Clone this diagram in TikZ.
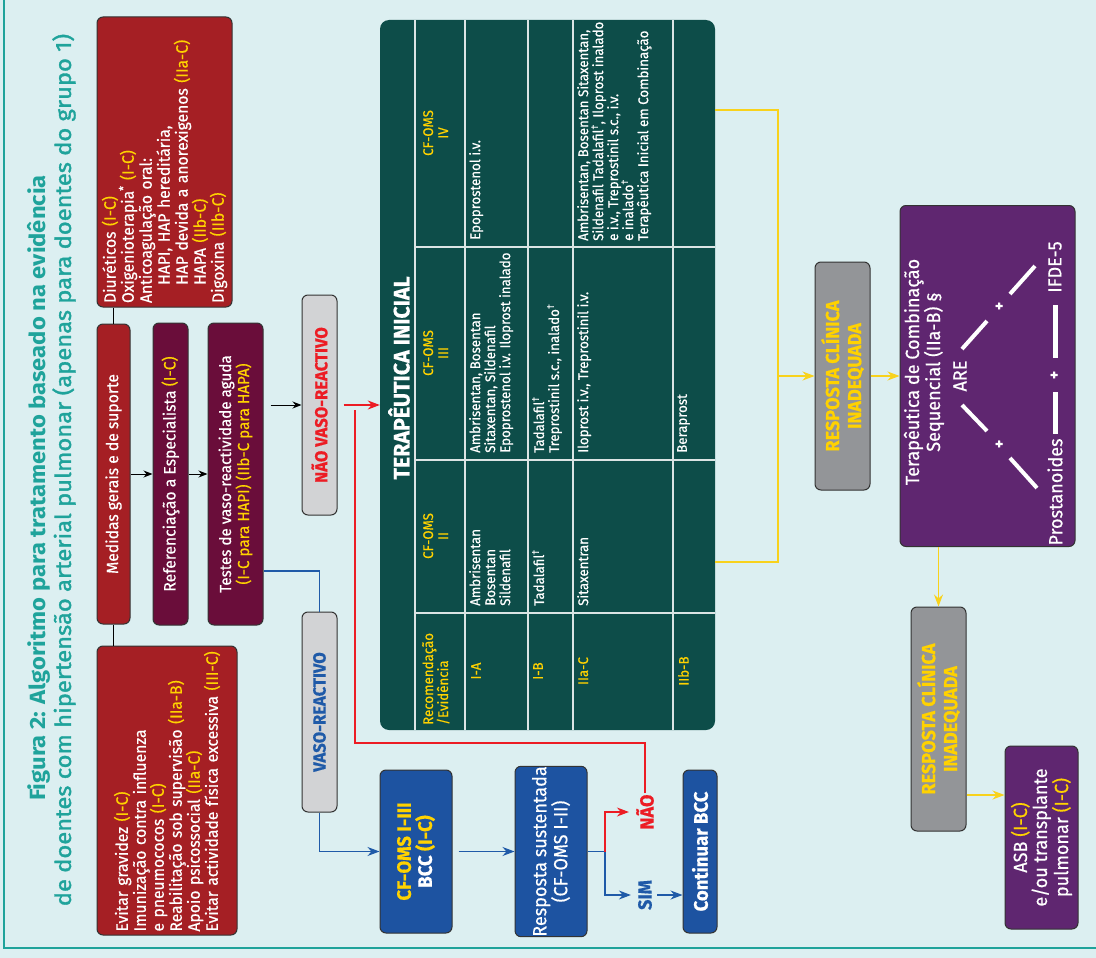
\documentclass[tikz,border=0pt]{standalone}
\usepackage{fontspec}
\setmainfont{Fira Sans}[FakeStretch=0.95, FakeBold=0.5]
\newfontfamily\titlefont{Fira Sans}[FakeStretch=1.08]
\newfontfamily\titlemed{Fira Sans}[FakeStretch=1.08, FakeBold=1.5]
\usetikzlibrary{arrows.meta,calc}

\definecolor{bgcol}{HTML}{DCEFF1}
\definecolor{tealtitle}{HTML}{1FA39B}
\definecolor{redbox}{HTML}{A51F24}
\definecolor{maroonbox}{HTML}{6A0D3A}
\definecolor{tablecol}{HTML}{0D4D49}
\definecolor{bluebox}{HTML}{1D53A1}
\definecolor{lightgrey}{HTML}{D2D3D5}
\definecolor{midgrey}{HTML}{939598}
\definecolor{purplebox}{HTML}{5F2670}
\definecolor{evyellow}{HTML}{FFD200}
\definecolor{noared}{HTML}{EC1C24}
\definecolor{simblue}{HTML}{1F5AA8}
\definecolor{lineyellow}{HTML}{F8D21C}

\newcommand{\fs}[2]{\fontsize{#1}{#2}\selectfont}
\newcommand{\ev}[1]{\textcolor{evyellow}{#1}}
\newcommand{\dg}{\textsuperscript{†}}

\begin{document}
\begin{tikzpicture}[x=1pt,y=-1pt,
  card/.style={draw=black!80, line width=1pt, rounded corners=6pt, rotate=90,
    inner sep=0pt, text=white, align=center},
  tcell/.style={rotate=90, anchor=north west, align=left, inner sep=0pt,
    text=white, font=\fs{14}{15}},
  thead/.style={rotate=90, anchor=north, align=center, inner sep=0pt,
    text=evyellow, font=\fs{14}{15}},
  tline/.style={draw=white!85!tablecol, line width=1.1pt},
  plain/.style={draw=black, line width=1pt},
  blackarrow/.style={draw=black, line width=1pt, -{Stealth[length=9pt,width=7pt]}},
  bluearrow/.style={draw=simblue, line width=1.2pt, -{Stealth[length=12pt,width=9pt]}},
  blueline/.style={draw=simblue, line width=1.2pt},
  redarrow/.style={draw=noared, line width=1.2pt, -{Stealth[length=12pt,width=9pt]}},
  redline/.style={draw=noared, line width=1.2pt},
  yarrow/.style={draw=lineyellow, line width=1.3pt, -{Stealth[length=12pt,width=9pt]}},
  yline/.style={draw=lineyellow, line width=1.3pt},
  lbl/.style={rotate=90, inner sep=1pt, font=\bfseries\fs{19}{21}},
  wtxt/.style={rotate=90, inner sep=1pt, text=white, font=\fs{19}{21}},
  wbar/.style={draw=white, line width=4pt},
]

  % Background and frame
  \fill[bgcol] (0,0) rectangle (1096,958);
  \useasboundingbox (0,0) rectangle (1096,958);
  \draw[tealtitle, line width=2.5pt] (4,0) -- (4,948) -- (1096,948);

  % Title
  \node[rotate=90, text=tealtitle, font=\titlefont\bfseries\fs{22}{26}] (title1) at (39,488)
    {Figura 2: Algoritmo para tratamento baseado na evidência};
  \node[rotate=90, text=tealtitle, font=\titlemed\fs{22}{26}] (title2) at (64,470)
    {de doentes com hipertensão arterial pulmonar (apenas para doentes do grupo 1)};

  % General measures column
  \node[card, fill=redbox, minimum width=290pt, minimum height=135pt, text width=282pt,
    align=left, font=\fs{16.5}{18}] (diuret) at (164.5,162)
    {Diuréticos \ev{(I-C)}\\
     Oxigenioterapia\textsuperscript{*} \ev{(I-C)}\\
     Anticoagulação oral:\\
     \hspace*{1.1em}HAPI, HAP hereditária,\\
     \hspace*{1.1em}HAP devida a anorexigenos \ev{(IIa-C)}\\
     \hspace*{1.1em}HAPA \ev{(IIb-C)}\\
     Digoxina \ev{(IIb-C)}};
  \node[card, fill=redbox, minimum width=300pt, minimum height=33pt, font=\fs{16.5}{18}]
    (medidas) at (113.5,474) {Medidas gerais e de suporte};
  \node[card, fill=maroonbox, minimum width=302pt, minimum height=35pt, font=\fs{16.5}{18}]
    (refer) at (170.5,474) {Referenciação a Especialista \ev{(I-C)}};
  \node[card, fill=maroonbox, minimum width=302pt, minimum height=55pt, font=\fs{16}{18}]
    (testes) at (235.5,474) {Testes de vaso-reactividade aguda\\
     \ev{(I-C para HAPI) (IIb-C para HAPA)}};
  \node[card, fill=redbox, minimum width=289pt, minimum height=140pt, text width=282pt,
    align=left, font=\fs{16.5}{18}] (evitar) at (167,790.5)
    {Evitar gravidez \ev{(I-C)}\\
     Imunização contra influenza\\
     e pneumococos \ev{(I-C)}\\
     Reabilitação sob supervisão \ev{(IIa-B)}\\
     Apoio psicossocial \ev{(IIa-C)}\\
     Evitar actividade física excessiva \ev{(III-C)}};

  \draw[plain] (diuret.west -| medidas.east) -- (medidas.east);
  \draw[plain] (medidas.west) -- (medidas.west |- evitar.east);
  \draw[blackarrow] (medidas) -- (refer);
  \draw[blackarrow] (refer) -- (testes);

  % Vasoreactivity decision
  \node[card, fill=lightgrey, minimum width=220pt, minimum height=35pt, text=noared,
    font=\bfseries\fs{17.5}{20}] (naovaso) at (319.5,405) {NÃO VASO-REACTIVO};
  \node[card, fill=lightgrey, minimum width=200pt, minimum height=35pt, text=simblue,
    font=\bfseries\fs{17.5}{20}] (vaso) at (319.5,712) {VASO-REACTIVO};
  \draw[blackarrow, shorten <=7pt] (testes.south |- naovaso) -- (naovaso);

  % Table of initial therapy
  \node[fill=tablecol, rounded corners=9pt, minimum width=335pt, minimum height=710pt,
    inner sep=0pt] (tab) at (547.5,375) {};
  \foreach \r in {415,465,528,573,673}
    \draw[tline] (\r,20) -- (\r,730);
  \foreach \c in {247,460,613}
    \draw[tline] (415,\c) -- (715,\c);

  \node[rotate=90, text=white, font=\bfseries\fs{22.5}{24}] (tabtitle) at (399,378)
    {TERAPÊUTICA INICIAL};
  \node[tcell, text=evyellow] (hrec) at (422,725) {Recomendação\\/Evidência};
  \node[thead] (hii) at (423,536) {CF-OMS\\II};
  \node[thead] (hiii) at (423,353) {CF-OMS\\III};
  \node[thead] (hiv) at (423,133) {CF-OMS\\IV};

  \node[thead] (ria) at (471,671) {I-A};
  \node[thead] (rib) at (533,671) {I-B};
  \node[thead] (riia) at (578,671) {IIa-C};
  \node[thead] (riib) at (678,671) {IIb-B};

  \node[tcell] (aii) at (469,606) {Ambrisentan\\Bosentan\\Sildenafil};
  \node[tcell] (aiii) at (469,453) {Ambrisentan, Bosentan\\Sitaxentan, Sildenafil\\
    Epoprostenol i.v. Iloprost inalado};
  \node[tcell] (aiv) at (469,240) {Epoprostenol i.v.};
  \node[tcell] (bii) at (532,606) {Tadalafil\dg};
  \node[tcell] (biii) at (532,453) {Tadalafil\dg\\Treprostinil s.c., inalado\dg};
  \node[tcell] (cii) at (577,606) {Sitaxentran};
  \node[tcell] (ciii) at (577,453) {Iloprost i.v., Treprostinil i.v.};
  \node[tcell] (civ) at (577,241) {Ambrisentan, Bosentan Sitaxentan,\\
    Sildenafil Tadalafil\dg, Iloprost inalado\\
    e i.v., Treprostinil s.c., i.v.\\
    e inalado\dg\\
    Terapêutica Inicial em Combinação};
  \node[tcell] (diii) at (677,453) {Beraprost};

  \draw[redarrow, shorten <=6pt] (naovaso.south) -- (naovaso.south -| tab.west);

  % Calcium channel blocker branch
  \node[card, fill=bluebox, minimum width=163pt, minimum height=72pt,
    font=\bfseries\fs{19.5}{21}] (cfoms) at (416,851.5) {\ev{CF-OMS I-III}\\ BCC \ev{(I-C)}};
  \node[card, fill=bluebox, minimum width=163pt, minimum height=72pt, font=\fs{19}{21}]
    (resp) at (551,851.5) {Resposta sustentada\\ (CF-OMS I-II)};
  \node[card, fill=bluebox, minimum width=163pt, minimum height=34pt,
    font=\bfseries\fs{19.5}{21}] (contbcc) at (700,851.5) {Continuar BCC};
  \node[lbl, text=noared] (naolbl) at (645,812) {NÃO};
  \node[lbl, text=simblue] (simlbl) at (645,895) {SIM};

  \coordinate (bluey) at (0,571);
  \draw[blueline] (testes.south |- bluey) -| (vaso.east);
  \draw[bluearrow] (vaso.west) |- (cfoms.north);
  \draw[bluearrow, shorten <=6pt] (cfoms) -- (resp);
  \coordinate (split) at (605,851.5);
  \draw[blueline] (resp.south) -- (split);
  \draw[redarrow, shorten >=6pt] (split) |- (naolbl.north);
  \draw[bluearrow, shorten >=6pt] (split) |- (simlbl.north);
  \draw[bluearrow, shorten <=4pt] (simlbl.south) -- (simlbl.south -| contbcc.north);

  \coordinate (rturn) at (355,743);
  \coordinate (rtop) at (355,410);
  \draw[redline] (naolbl.east) |- (rturn) -- (rtop);

  % Inadequate response branch
  \node[card, fill=midgrey, minimum width=228pt, minimum height=55pt, text=evyellow,
    font=\bfseries\fs{19}{22}] (resp1) at (842.5,376) {RESPOSTA CLÍNICA\\INADEQUADA};
  \node[card, fill=purplebox, minimum width=341pt, minimum height=175pt] (terap)
    at (987.5,376) {};
  \node[card, fill=midgrey, minimum width=224pt, minimum height=55pt, text=evyellow,
    font=\bfseries\fs{19}{22}] (resp2) at (938.5,719) {RESPOSTA CLÍNICA\\INADEQUADA};
  \node[card, fill=purplebox, minimum width=183pt, minimum height=73pt, font=\fs{19}{20}]
    (asb) at (1041.5,837.5) {ASB \ev{(I-C)}\\ e/ou transplante\\ pulmonar \ev{(I-C)}};

  \coordinate (ytop) at (778,110);
  \coordinate (ybot) at (778,562);
  \draw[yline] (ytop -| tab.east) -- (ytop) -- (ybot) -- (ybot -| tab.east);
  \draw[yarrow] (ytop |- resp1) -- (resp1);
  \draw[yarrow] (resp1) -- (terap);
  \draw[yarrow] (terap.west -| resp2.east) -- (resp2.east);
  \coordinate (yasb) at (0,795);
  \draw[yarrow] (resp2.south |- yasb) -- (asb.north |- yasb);

  % Sequential combination triangle
  \node[wtxt, align=center] (combtxt) at (924,372)
    {Terapêutica de Combinação\\ Sequencial (IIa-B) §};
  \node[wtxt] (are) at (960,376) {ARE};
  \node[wtxt] (prost) at (1055,492) {Prostanoides};
  \node[wtxt] (ifde) at (1055,267) {IFDE-5};
  \node[wtxt, font=\bfseries\fs{16}{17}] (plusa) at (1000,444) {+};
  \node[wtxt, font=\bfseries\fs{16}{17}] (plusb) at (1000,306) {+};
  \node[wtxt, font=\bfseries\fs{16}{17}] (plusc) at (1055,375) {+};
  \draw[wbar] (962,405) -- (987,431);
  \draw[wbar] (1010,458) -- (1037,488);
  \draw[wbar] (962,349) -- (987,321);
  \draw[wbar] (1010,294) -- (1035,266);
  \draw[wbar, line width=5pt] (1055,392) -- (1055,434);
  \draw[wbar, line width=5pt] (1055,305) -- (1055,358);

\end{tikzpicture}
\end{document}
